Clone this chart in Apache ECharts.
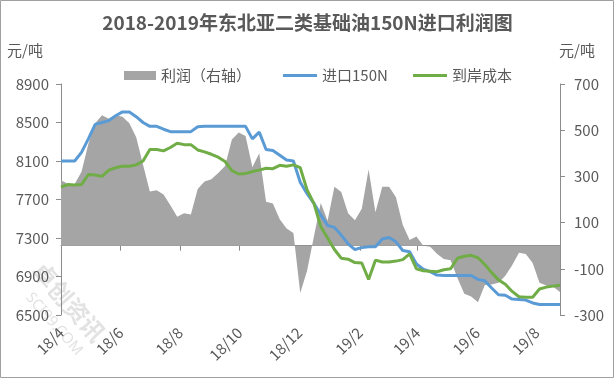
<!DOCTYPE html>
<html><head><meta charset="utf-8">
<script src="https://cdn.jsdelivr.net/npm/echarts@6/dist/echarts.min.js"></script>
<style>html,body{margin:0;padding:0;background:#fff}#c{width:615px;height:379px}</style>
</head><body><div id="c"></div>
<script>
const dates = [
'2018-04-01','2018-04-08','2018-04-15','2018-04-22','2018-04-29','2018-05-06','2018-05-13','2018-05-20','2018-05-27','2018-06-03',
'2018-06-10','2018-06-17','2018-06-24','2018-07-01','2018-07-08','2018-07-15','2018-07-22','2018-07-29','2018-08-05','2018-08-12',
'2018-08-19','2018-08-26','2018-09-02','2018-09-09','2018-09-16','2018-09-23','2018-09-30','2018-10-07','2018-10-14','2018-10-21',
'2018-10-28','2018-11-04','2018-11-11','2018-11-18','2018-11-25','2018-12-02','2018-12-09','2018-12-16','2018-12-23','2018-12-30',
'2019-01-06','2019-01-13','2019-01-20','2019-01-27','2019-02-03','2019-02-10','2019-02-17','2019-02-24','2019-03-03','2019-03-10',
'2019-03-17','2019-03-24','2019-03-31','2019-04-07','2019-04-14','2019-04-21','2019-04-28','2019-05-05','2019-05-12','2019-05-19',
'2019-05-26','2019-06-02','2019-06-09','2019-06-16','2019-06-23','2019-06-30','2019-07-07','2019-07-14','2019-07-21','2019-07-28',
'2019-08-04','2019-08-11','2019-08-18','2019-08-25'];
const import150N = [
8100,8100,8100,8190,8330,8480,8500,8520,8570,8610,
8610,8560,8500,8460,8460,8430,8405,8405,8405,8405,
8455,8460,8460,8460,8460,8460,8460,8460,8330,8400,
8220,8210,8160,8110,8100,7880,7760,7660,7540,7430,
7410,7330,7240,7180,7200,7210,7210,7290,7305,7260,
7170,7157,7030,6975,6950,6915,6910,6910,6910,6910,
6910,6870,6856,6780,6710,6705,6665,6660,6655,6625,
6610,6610,6610,6610];
const landedCost = [
7830,7855,7850,7855,7960,7955,7940,8005,8030,8045,
8045,8060,8100,8220,8220,8205,8240,8285,8270,8270,
8215,8195,8170,8140,8095,8000,7965,7970,7990,8005,
8025,8020,8055,8045,8060,8030,7800,7660,7420,7300,
7180,7090,7080,7045,7040,6870,7070,7050,7050,7060,
7075,7135,6980,6960,6955,6950,6970,6980,7090,7110,
7120,7095,7025,6940,6865,6820,6745,6690,6685,6685,
6770,6790,6800,6810];
const profit = [
283,268,267,320,440,530,565,550,565,558,
530,470,350,235,240,222,175,125,140,135,
245,278,288,315,345,460,490,475,340,400,
190,183,115,75,55,-205,-108,40,185,108,
255,232,140,110,160,330,145,255,255,210,
90,25,40,0,-5,-35,-58,-63,-140,-208,
-220,-245,-170,-168,-160,-130,-85,-30,-36,-75,
-160,-172,-178,-200];
const tickMonths = ['2018-04-01','2018-06-01','2018-08-01','2018-10-01','2018-12-01','2019-02-01','2019-04-01','2019-06-01','2019-08-01'];
const seriesNames = ['利润（右轴）','进口150N','到岸成本'];
const titleText = '2018-2019年东北亚二类基础油150N进口利润图';

function localTs(s){const p=s.split('-').map(Number);return new Date(p[0],p[1]-1,p[2]).getTime();}
const tickTs = tickMonths.map(localTs);
const pair = arr => dates.map((d,i)=>[localTs(d),arr[i]]);
const FONT = "'Noto Sans CJK SC','Noto Sans',sans-serif";
const TXT = '#595959', AX = '#8c8c8c';

const chart = echarts.init(document.getElementById('c'), null, {renderer:'canvas'});
chart.setOption({
  animation:false,
  backgroundColor:'#fff',
  title:{text:titleText,left:'center',top:8,textStyle:{fontFamily:FONT,fontSize:19,fontWeight:'bold',color:TXT}},
  legend:[
    {left:119,top:63,itemWidth:32,itemHeight:9,icon:'rect',textStyle:{fontFamily:FONT,fontSize:15,color:TXT},data:[{name:seriesNames[0]}]},
    {left:278,top:63,itemWidth:34,itemHeight:3,icon:'rect',textStyle:{fontFamily:FONT,fontSize:15,color:TXT},data:[{name:seriesNames[1]}]},
    {left:408,top:63,itemWidth:34,itemHeight:3,icon:'rect',textStyle:{fontFamily:FONT,fontSize:15,color:TXT},data:[{name:seriesNames[2]}]}
  ],
  grid:{left:61,right:55,top:84,bottom:64,containLabel:false},
  xAxis:{type:'value',min:localTs('2018-04-01'),max:localTs('2019-08-25'),
    axisLine:{lineStyle:{color:AX,width:1}},
    axisTick:{show:true,length:5,lineStyle:{color:AX},customValues:tickTs},
    axisLabel:{customValues:tickTs,rotate:45,margin:15,color:TXT,fontSize:15,fontFamily:FONT,
      formatter:function(v){const d=new Date(v);return String(d.getFullYear()).slice(2)+'/'+(d.getMonth()+1);}},
    splitLine:{show:false}},
  yAxis:[
    {type:'value',min:6500,max:8900,interval:400,position:'left',
      axisLine:{show:true,lineStyle:{color:AX}},axisTick:{show:true,length:5,lineStyle:{color:AX}},
      axisLabel:{color:TXT,fontSize:15,fontFamily:FONT,margin:12,formatter:v=>String(v)},splitLine:{show:false}},
    {type:'value',min:-300,max:700,interval:200,position:'right',
      axisLine:{show:true,lineStyle:{color:AX}},axisTick:{show:true,length:5,lineStyle:{color:AX}},
      axisLabel:{color:TXT,fontSize:15,fontFamily:FONT,margin:14,formatter:v=>String(v)},splitLine:{show:false}}
  ],
  series:[
    {name:seriesNames[0],type:'line',yAxisIndex:1,data:pair(profit),symbol:'none',
      lineStyle:{width:0,color:'#A5A5A5'},itemStyle:{color:'#A5A5A5'},
      areaStyle:{color:'#A5A5A5',opacity:1,origin:0},z:1},
    {name:seriesNames[1],type:'line',yAxisIndex:0,data:pair(import150N),symbol:'none',
      lineStyle:{width:3,color:'#5B9BD5'},itemStyle:{color:'#5B9BD5'},z:3},
    {name:seriesNames[2],type:'line',yAxisIndex:0,data:pair(landedCost),symbol:'none',
      lineStyle:{width:3,color:'#70AD47'},itemStyle:{color:'#70AD47'},z:4}
  ],
  graphic:[
    {type:'rect',shape:{x:0.5,y:0.5,width:613,height:377},style:{fill:'none',stroke:'#a0a0a0',lineWidth:1},silent:true},
    {type:'text',left:7,top:43,style:{text:'元/吨',fill:TXT,font:"15px 'Noto Sans CJK SC'"}},
    {type:'text',left:559,top:43,style:{text:'元/吨',fill:TXT,font:"15px 'Noto Sans CJK SC'"}},
    {type:'text',x:46,y:258,rotation:-Math.PI*0.27,style:{text:'卓创资讯',fill:'rgba(160,160,160,0.3)',font:"bold 24px 'Noto Sans CJK SC'"},silent:true,z:0},
    {type:'text',x:34,y:290,rotation:-Math.PI*0.27,style:{text:'SCI99.COM',fill:'rgba(160,160,160,0.3)',font:"15px 'Noto Sans'"},silent:true,z:0}
  ]
});
</script></body></html>
